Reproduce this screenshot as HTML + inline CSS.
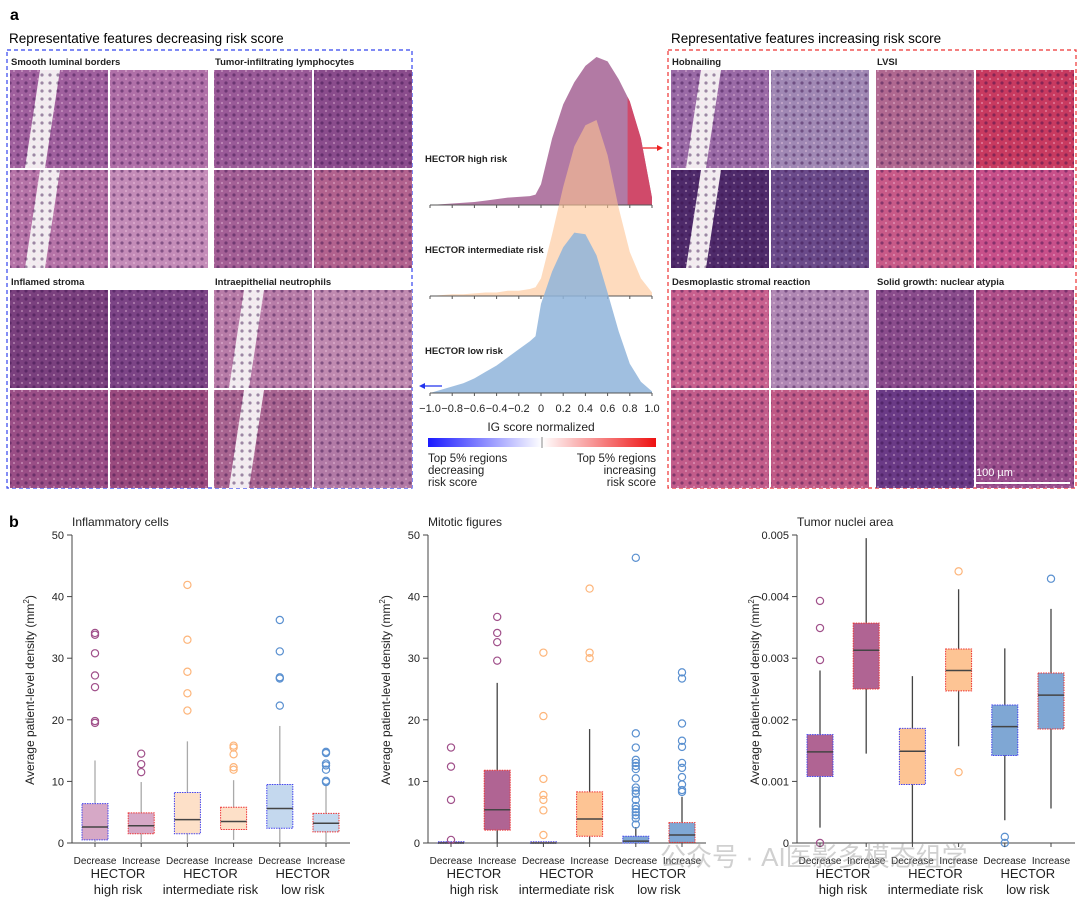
<!DOCTYPE html>
<html><head><meta charset="utf-8"><style>
body{margin:0;background:#fff;}
svg{display:block;font-family:"Liberation Sans","Noto Sans CJK SC",sans-serif;}
</style></head><body>
<svg id="fig" width="1080" height="901" viewBox="0 0 1080 901" xmlns="http://www.w3.org/2000/svg">
<defs>
<pattern id="dots" width="8" height="8" patternUnits="userSpaceOnUse"><circle cx="2" cy="3" r="1.6" fill="rgba(50,10,70,0.45)"/><circle cx="6" cy="7" r="1.1" fill="rgba(255,220,240,0.35)"/></pattern>
<linearGradient id="cbar" x1="0" x2="1"><stop offset="0" stop-color="#1a1aff"/><stop offset="0.5" stop-color="#fff"/><stop offset="1" stop-color="#ee1111"/></linearGradient>
</defs>
<g id="panelA"></g>
<g id="ridge"></g>
<g id="panelB"></g>
</svg>
<script>
// ---------- Ridge plot data ----------
const igX = [-1,-0.9,-0.8,-0.7,-0.6,-0.5,-0.4,-0.3,-0.2,-0.1,-0.05,0,0.1,0.2,0.3,0.4,0.5,0.6,0.7,0.8,0.9,1.0];
const densHigh = [0,0.005,0.01,0.015,0.02,0.03,0.04,0.05,0.055,0.06,0.07,0.14,0.45,0.68,0.83,0.94,1.0,0.97,0.85,0.7,0.45,0.05];
const densInter = [0,0.005,0.01,0.01,0.015,0.02,0.02,0.03,0.03,0.04,0.05,0.1,0.35,0.62,0.85,0.97,1.0,0.8,0.5,0.25,0.1,0.02];
const densLow = [0,0.02,0.04,0.06,0.09,0.13,0.17,0.22,0.27,0.32,0.35,0.55,0.75,0.9,0.99,0.98,0.85,0.62,0.38,0.18,0.07,0.01];
const igTicks = [-1.0,-0.8,-0.6,-0.4,-0.2,0,0.2,0.4,0.6,0.8,1.0];
const igTickLabels = ["−1.0","−0.8","−0.6","−0.4","−0.2","0","0.2","0.4","0.6","0.8","1.0"];

// ---------- Box plot data: [whiskerLow, q1, median, q3, whiskerHigh] ----------
const groups = ["HECTOR|high risk","HECTOR|intermediate risk","HECTOR|low risk"];
const inflBoxes = [[0,0.5,2.6,6.4,13.4],[0,1.5,2.8,4.9,9.9],[0,1.5,3.8,8.2,16.5],[0.5,2.2,3.5,5.8,10.2],[0,2.4,5.6,9.5,19],[0,1.8,3.2,4.8,9.3]];
const inflOut = [[19.5,19.8,25.3,27.2,30.8,33.8,34.1],[11.5,12.8,14.5],[21.5,24.3,27.8,33,41.9],[11.9,12.3,14.4,15.5,15.8],[22.3,26.7,26.9,31.1,36.2],[9.9,10.1,11.9,12.6,12.9,14.6,14.8]];
const mitoBoxes = [[0,0,0,0.2,0.2],[0,2.1,5.4,11.8,26],[0,0,0,0.2,0.2],[0,1.1,3.9,8.3,18.5],[0,0,0.3,1.1,2.6],[0,0.1,1.3,3.3,7.5]];
const mitoOut = [[0.5,7,12.4,15.5],[29.6,32.6,34.1,36.7],[1.3,5.3,7,7.8,10.4,20.6,30.9],[30,30.9,41.3],[3,4,4.5,5,5.5,6,7,8,8.5,9,10.5,12,12.5,13,13.5,15.5,17.8,46.3],[8.3,8.6,9.5,10.7,12.2,13,15.6,16.6,19.4,26.7,27.7]];
const nucBoxes = [[0.00025,0.00108,0.00148,0.00176,0.0028],[0.00145,0.0025,0.00313,0.00357,0.00495],[0,0.00095,0.00149,0.00186,0.00271],[0.00157,0.00247,0.0028,0.00315,0.00412],[0.00037,0.00142,0.00189,0.00224,0.00316],[0.00056,0.00185,0.0024,0.00276,0.0038]];
const nucOut = [[0,0.00297,0.00349,0.00393],[],[],[0.00115,0.00441],[0,0.0001],[0.00429]];
const countTicks = [0,10,20,30,40,50];
const nucTicks = [0,0.001,0.002,0.003,0.004,0.005];
const nucTickLabels = ["0","0.001","0.002","0.003","0.004","0.005"];

const NS="http://www.w3.org/2000/svg";
function mk(tag,attrs,parent){const e=document.createElementNS(NS,tag);for(const k in attrs)e.setAttribute(k,attrs[k]);parent.appendChild(e);return e;}
function txt(s,attrs,parent){const e=mk('text',attrs,parent);e.textContent=s;return e;}

// ---------- Panel a tiles ----------
const A=document.getElementById('panelA');
let t=txt('a',{x:10,y:20,'font-size':16,'font-weight':'bold'},A);


t=txt('Representative features decreasing risk score',{x:9,y:43,'font-size':13.5},A);


t=txt('Representative features increasing risk score',{x:671,y:43,'font-size':13.5},A);


let r=mk('rect',{x:7,y:50,width:405,height:438,fill:'none',stroke:'#3344ee','stroke-width':1.2,'stroke-dasharray':'4 3'},A);


r=mk('rect',{x:668,y:50,width:408,height:438,fill:'none',stroke:'#ee3333','stroke-width':1.2,'stroke-dasharray':'4 3'},A);


const quads=[
 {x:10,y:53,label:'Smooth luminal borders',cols:['#a0609e','#b070a8','#b674a8','#c48cb8'],white:true},
 {x:214,y:53,label:'Tumor-infiltrating lymphocytes',cols:['#9a5a98','#8a4c8c','#a46096','#b2628e'],white:false},
 {x:10,y:273,label:'Inflamed stroma',cols:['#7a407e','#7c4486','#9a4e86','#9a4a7e'],white:false},
 {x:214,y:273,label:'Intraepithelial neutrophils',cols:['#b87ca8','#c08ab0','#a86490','#b27aa6'],white:true},
 {x:671,y:53,label:'Hobnailing',cols:['#9a6aa6','#a088b4','#4e2a6a','#6a4a8a'],white:true},
 {x:876,y:53,label:'LVSI',cols:['#b06890','#c83a60','#c85a88','#c8508a'],white:false},
 {x:671,y:273,label:'Desmoplastic stromal reaction',cols:['#c8608e','#b088b4','#c25c8a','#c05a86'],white:false},
 {x:876,y:273,label:'Solid growth: nuclear atypia',cols:['#8a4c8c','#b0508a','#6a3a86','#9a4e8c'],white:false}];
quads.forEach((q,qi)=>{
  const l=txt(q.label,{x:q.x+1,y:q.y+12,'font-size':9.5,'font-weight':'bold',fill:'#222'},A);
  
  
  for(let i=0;i<4;i++){
    const tx=q.x+(i%2)*100, ty=q.y+17+Math.floor(i/2)*100;
    const g=mk('g',{},A);
    
    
    mk('rect',{x:tx,y:ty,width:98,height:98,fill:q.cols[i]},g);
    if(q.white&&i%2===0){mk('path',{d:`M${tx+30} ${ty} L${tx+50} ${ty} L${tx+35} ${ty+98} L${tx+15} ${ty+98}Z`,fill:'#f2ecf0'},g);}
    mk('rect',{x:tx,y:ty,width:98,height:98,fill:'url(#dots)'},g);
  }
});
mk('line',{x1:975,y1:483,x2:1070,y2:483,stroke:'#fff','stroke-width':2},A);
t=txt('100 µm',{x:976,y:476,'font-size':11,fill:'#fff'},A);


mk('line',{x1:640,y1:148,x2:660,y2:148,stroke:'#ee2222','stroke-width':1.3},A);
mk('path',{d:'M663 148 L657 145 L657 151Z',fill:'#ee2222'},A);
mk('line',{x1:442,y1:386,x2:422,y2:386,stroke:'#2233ee','stroke-width':1.3},A);
mk('path',{d:'M419 386 L425 383 L425 389Z',fill:'#2233ee'},A);

// ---------- Ridge plot ----------
const R=document.getElementById('ridge');
const rx=v=>430+(v+1)/2*222;
const ridges=[
 {d:densHigh,base:205,h:148,fill:'#b27aa4',op:1,name:'HECTOR high risk',ly:162},
 {d:densInter,base:296,h:176,fill:'#fdc393',op:0.6,name:'HECTOR intermediate risk',ly:253},
 {d:densLow,base:393,h:162,fill:'#8fb4da',op:0.85,name:'HECTOR low risk',ly:354}];
ridges.forEach((rd,ri)=>{
  let d=`M${rx(igX[0])} ${rd.base}`;
  igX.forEach((x,i)=>{d+=` L${rx(x).toFixed(1)} ${(rd.base-rd.d[i]*rd.h).toFixed(1)}`;});
  d+=` L${rx(1)} ${rd.base}Z`;
  const p=mk('path',{d:d,fill:rd.fill,'fill-opacity':rd.op,'stroke-linejoin':'round'},R);
  
  
  if(ri===0){
    let d2=`M${rx(0.78)} ${rd.base}`;
    const yAt=x=>{for(let i=0;i<igX.length-1;i++){if(x>=igX[i]&&x<=igX[i+1]){const f=(x-igX[i])/(igX[i+1]-igX[i]);return rd.d[i]+(rd.d[i+1]-rd.d[i])*f;}}return 0;};
    d2+=` L${rx(0.78)} ${rd.base-yAt(0.78)*rd.h}`;
    igX.forEach((x,i)=>{if(x>0.78)d2+=` L${rx(x)} ${rd.base-rd.d[i]*rd.h}`;});
    d2+=` L${rx(1)} ${rd.base}Z`;
    const q=mk('path',{d:d2,fill:'#d04a6a'},R);
    
    
  }
  const ax=mk('line',{x1:rx(-1),y1:rd.base,x2:rx(1),y2:rd.base,stroke:'#555','stroke-width':1},R);
  
  
  igTicks.forEach(v=>mk('line',{x1:rx(v),y1:rd.base,x2:rx(v),y2:rd.base+3,stroke:'#555'},R));
  const lab=txt(rd.name,{x:425,y:rd.ly,'font-size':9.5,'font-weight':'bold',fill:'#222'},R);
  
  
});
igTicks.forEach((v,i)=>{
  const e=txt(igTickLabels[i],{x:rx(v),y:412,'font-size':11,'text-anchor':'middle',fill:'#222'},R);
  
  
});
t=txt('IG score normalized',{x:541,y:431,'font-size':12,'text-anchor':'middle',fill:'#222'},R);


r=mk('rect',{x:428,y:438,width:228,height:9,fill:'url(#cbar)'},R);


mk('line',{x1:542,y1:437,x2:542,y2:448,stroke:'#888'},R);
['Top 5% regions','decreasing','risk score'].forEach((s,i)=>txt(s,{x:428,y:462+i*12,'font-size':11.5,fill:'#222'},R));
['Top 5% regions','increasing','risk score'].forEach((s,i)=>txt(s,{x:656,y:462+i*12,'font-size':11.5,'text-anchor':'end',fill:'#222'},R));

// ---------- Panel b ----------
const B=document.getElementById('panelB');
t=txt('b',{x:9,y:527,'font-size':16,'font-weight':'bold'},B);


const Y0=843,Y1=535;
const fills=['#b06493','#fdc494','#7fa7d4'];
const lightFills=['#d6a8c6','#fde0c8','#c4d8ee'];
const outC=['#a0508a','#fdb57a','#5a90d0'];
function boxPlot(cfg){
  const g=mk('g',{},B);
  
  
  const ys=v=>Y0-(v/cfg.max)*(Y0-Y1);
  const tt=txt(cfg.title,{x:cfg.ax,y:526,'font-size':12,fill:'#222'},g);
  
  
  mk('line',{x1:cfg.ax,y1:Y1,x2:cfg.ax,y2:Y0,stroke:'#444','stroke-width':1},g);
  mk('line',{x1:cfg.ax-5,y1:Y0,x2:cfg.ax+278,y2:Y0,stroke:'#444','stroke-width':1},g);
  cfg.ticks.forEach((v,i)=>{
    mk('line',{x1:cfg.ax-5,y1:ys(v),x2:cfg.ax,y2:ys(v),stroke:'#444'},g);
    const e=txt(cfg.tickLabels[i],{x:cfg.ax-8,y:ys(v)+4,'font-size':11,'text-anchor':'end',fill:'#222'},g);
    
    
  });
  const yt=txt('',{x:0,y:0,'font-size':12,'text-anchor':'middle',fill:'#222',transform:`translate(${cfg.ax-38},690) rotate(-90)`},g);
  yt.innerHTML='Average patient-level density (mm<tspan dy="-5" font-size="8">2</tspan><tspan dy="5">)</tspan>';
  
  
  cfg.boxes.forEach((b,i)=>{
    const cx=cfg.ax+23+i*46.2, gi=Math.floor(i/2), w=26;
    const bg=mk('g',{},g);
    
    
    mk('line',{x1:cx,y1:ys(b[0]),x2:cx,y2:ys(b[4]),stroke:cfg.light?'#aaa':'#444','stroke-width':1.3},bg);
    mk('rect',{x:cx-w/2,y:ys(b[3]),width:w,height:Math.max(1.5,ys(b[1])-ys(b[3])),fill:cfg.light?lightFills[gi]:fills[gi],stroke:i%2?'#ee3333':'#4444ee','stroke-width':1,'stroke-dasharray':'1.5 1'},bg);
    mk('line',{x1:cx-w/2,y1:ys(b[2]),x2:cx+w/2,y2:ys(b[2]),stroke:'#444','stroke-width':1.5},bg);
    cfg.out[i].forEach(v=>mk('circle',{cx:cx,cy:ys(v),r:3.6,fill:'none',stroke:outC[gi],'stroke-width':1.2},bg));
    mk('line',{x1:cx,y1:Y0,x2:cx,y2:Y0+4,stroke:'#444'},g);
    const cl=txt(i%2?'Increase':'Decrease',{x:cx,y:864,'font-size':10,'text-anchor':'middle',fill:'#222'},g);
    
    
  });
  groups.forEach((s,gi)=>{
    const cx=cfg.ax+23+gi*92.4+23;
    const p=s.split('|');
    const e1=txt(p[0],{x:cx,y:878,'font-size':13,'text-anchor':'middle',fill:'#222'},g);
    
    
    txt(p[1],{x:cx,y:894,'font-size':13,'text-anchor':'middle',fill:'#222'},g);
  });
}
boxPlot({name:'inflammatory-cells-chart',title:'Inflammatory cells',ax:72,max:50,ticks:countTicks,tickLabels:countTicks.map(String),boxes:inflBoxes,out:inflOut,light:true});
boxPlot({name:'mitotic-figures-chart',title:'Mitotic figures',ax:428,max:50,ticks:countTicks,tickLabels:countTicks.map(String),boxes:mitoBoxes,out:mitoOut,light:false});
boxPlot({name:'tumor-nuclei-area-chart',title:'Tumor nuclei area',ax:797,max:0.005,ticks:nucTicks,tickLabels:nucTickLabels,boxes:nucBoxes,out:nucOut,light:false});
t=txt('公众号 · AI医影多模态组学',{x:660,y:866,'font-size':26,fill:'rgba(150,150,150,0.45)'},B);


</script>
</body></html>
